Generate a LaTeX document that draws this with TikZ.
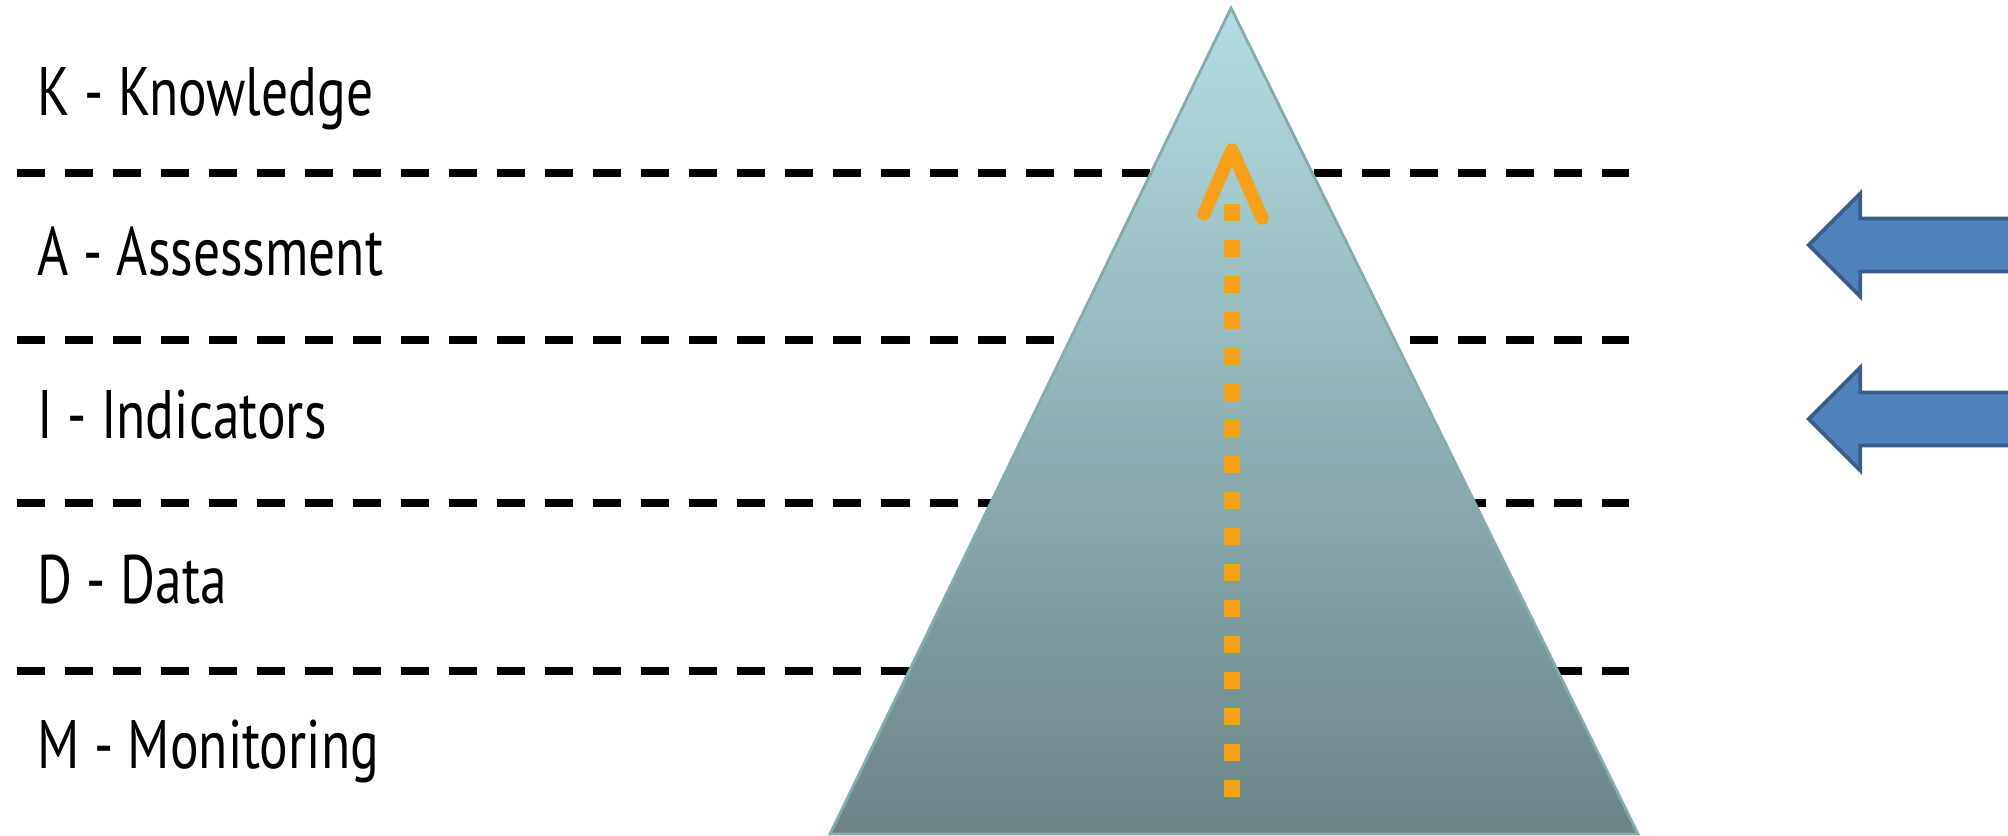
\documentclass[tikz,border=0pt]{standalone}
\usepackage{fontspec}
\setmainfont{PT Sans}[FakeStretch=0.78]
\usepackage{tikz}
\usetikzlibrary{positioning,calc,shapes.arrows}
\usepackage{xcolor}
\definecolor{pyrtop}{HTML}{B3DDE2}
\definecolor{pyrbot}{HTML}{6B8587}
\definecolor{pyredge}{HTML}{86ABAF}
\definecolor{upcol}{HTML}{F7A11A}
\definecolor{blfill}{HTML}{4F81BD}
\definecolor{bledge}{HTML}{385D8A}

\begin{document}
\begin{tikzpicture}[x=0.01cm,y=-0.01cm,
    level/.style={anchor=base west,inner sep=0pt,font=\fontsize{19.5}{21}\selectfont},
    sep/.style={line width=2pt,dash pattern=on 0.28cm off 0.2cm},
    inarrow/.style={single arrow,draw=bledge,fill=blfill,line width=1.1pt,
        minimum height=2.4cm,inner xsep=0pt,inner ysep=0.245cm,
        single arrow head extend=0.25cm,single arrow tip angle=90,
        shape border rotate=180,anchor=tip}]
\useasboundingbox (0,0) rectangle (2008,836);
\clip (0,0) rectangle (2008,836);

% layer labels
\node[level] (know) at (37,115) {K - Knowledge};
\node[level] (assess) at (37,275) {A - Assessment};
\node[level] (indic) at (37,438) {I - Indicators};
\node[level] (data) at (37,603) {D - Data};
\node[level] (monit) at (37,768) {M - Monitoring};

% separators
\foreach \y in {173,340,503,671}
  \draw[sep] (17,\y) -- (1629,\y);

% pyramid
\coordinate (apex) at (1231,8);
\coordinate (bl) at (830,834);
\coordinate (br) at (1638,834);
\shade[top color=pyrtop,bottom color=pyrbot,draw=pyredge,line width=0.8pt]
  (apex) -- (bl) -- (br) -- cycle;

% upward dotted arrow
\coordinate (up0) at (1232,797);
\coordinate (up1) at (1232,190);
\coordinate (tip) at (1232,150);
\coordinate (armL) at (1204,214);
\coordinate (armR) at (1262,218);
\draw[upcol,line width=4.3pt,dash pattern=on 0.17cm off 0.19cm] (up0) -- (up1);
\draw[upcol,line width=3.8pt,line cap=round,line join=round] (armL) -- (tip) -- (armR);

% side arrows
\node[inarrow] (arrA) at (1806,245) {};
\node[inarrow] (arrI) at (1806,419) {};
\end{tikzpicture}
\end{document}
